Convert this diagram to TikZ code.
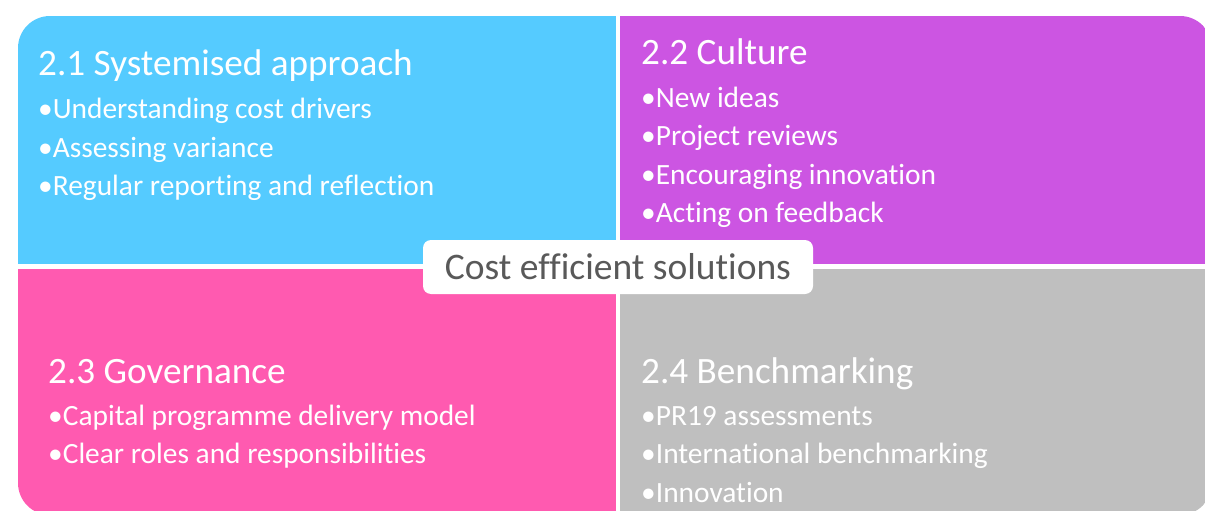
\documentclass[tikz,border=0pt]{standalone}
\usepackage{fontspec}
\setmainfont{Carlito}[Ligatures=NoCommon]
\usetikzlibrary{positioning}
\definecolor{sysblue}{RGB}{85,203,255}
\definecolor{culturepurple}{RGB}{204,85,226}
\definecolor{govpink}{RGB}{255,90,176}
\definecolor{benchgray}{RGB}{191,191,191}
\definecolor{hubtext}{RGB}{89,89,89}
\tikzset{
  quad/.style={rectangle, inner sep=0pt, outer sep=0pt, anchor=north west},
  heading/.style={anchor=base west, inner sep=0pt, text=white, font=\fontsize{37.2}{37}\selectfont, text depth=8pt},
  item/.style={inner sep=0pt, text=white, font=\fontsize{29.4}{29}\selectfont, text height=20pt, text depth=6pt},
  hub/.style={rectangle, rounded corners=8pt, fill=white, text=hubtext, minimum width=390pt, minimum height=54pt, font=\fontsize{37.5}{37}\selectfont},
}

\begin{document}
\begin{tikzpicture}[x=1pt,y=-1pt]
\useasboundingbox (0,0) rectangle (1205,511);
\fill[white] (0,0) rectangle (1205,511);
% the four quarters
\begin{scope}
\clip[rounded corners=32pt] (18,16) rectangle (1212,515);
\node[quad, fill=sysblue, minimum width=598pt, minimum height=248pt] (sys) at (18,16) {};
\node[quad, fill=culturepurple, minimum width=600pt, minimum height=248pt] (cult) at (620,16) {};
\node[quad, fill=govpink, minimum width=598pt, minimum height=250pt] (gov) at (18,269) {};
\node[quad, fill=benchgray, minimum width=600pt, minimum height=250pt] (bench) at (620,269) {};
\end{scope}
% 2.1
\node[heading] (sysH) at (38,75) {2.1 Systemised approach};
\node[item, below right=15pt and 0pt of sysH.south west] (sysA) {\textbullet Understanding cost drivers};
\node[item, below right=12.5pt and 0pt of sysA.south west] (sysB) {\textbullet Assessing variance};
\node[item, below right=12pt and 0pt of sysB.south west] (sysC) {\textbullet Regular reporting and reflection};
% 2.2
\node[heading] (cultH) at (641,65) {2.2 Culture};
\node[item, below right=14pt and 0pt of cultH.south west] (cultA) {\textbullet New ideas};
\node[item, below right=12pt and 0pt of cultA.south west] (cultB) {\textbullet Project reviews};
\node[item, below right=12pt and 0pt of cultB.south west] (cultC) {\textbullet Encouraging innovation};
\node[item, below right=12pt and 0pt of cultC.south west] (cultD) {\textbullet Acting on feedback};
% 2.3
\node[heading] (govH) at (48,383) {2.3 Governance};
\node[item, below right=14pt and 0pt of govH.south west] (govA) {\textbullet Capital programme delivery model};
\node[item, below right=12pt and 0pt of govA.south west] (govB) {\textbullet Clear roles and responsibilities};
% 2.4
\node[heading] (benchH) at (641,383) {2.4 Benchmarking};
\node[item, below right=14pt and 0pt of benchH.south west] (benchA) {\textbullet PR19 assessments};
\node[item, below right=12pt and 0pt of benchA.south west] (benchB) {\textbullet International benchmarking};
\node[item, below right=12pt and 0pt of benchB.south west] (benchC) {\textbullet Innovation};
% centre
\node[hub] (goal) at (618,267) {Cost efficient solutions};
\end{tikzpicture}
\end{document}
